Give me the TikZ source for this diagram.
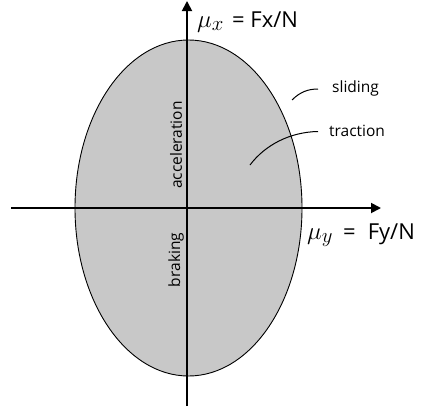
\documentclass[tikz,border=0pt]{standalone}
\usepackage{fontspec}
\setmainfont{Open Sans}
\usetikzlibrary{arrows.meta}
\begin{document}
\begin{tikzpicture}[x=1pt,y=-1pt,
  axis/.style={line width=1.8pt,-{Triangle[width=10pt,length=10pt]}},
  lead/.style={line width=1pt},
  lbl/.style={font=\fontsize{15.5}{17}\selectfont,inner sep=0pt,anchor=west},
  axlbl/.style={font=\fontsize{22}{24}\selectfont,inner sep=0pt,anchor=base west},
  mu/.style={font=\fontsize{30}{32}\selectfont,inner sep=0pt,anchor=base west},
  rot/.style={font=\fontsize{15.5}{17}\selectfont,inner sep=0pt,rotate=90}]
\useasboundingbox (0,0) rectangle (422,407);
\coordinate (c) at (188.5,208);
\fill[fill={rgb,255:red,200;green,200;blue,200},draw=black,line width=0.9pt] (c) ellipse [x radius=113.5, y radius=168];
\coordinate (vb) at (187,406);
\coordinate (vt) at (187,1);
\coordinate (hl) at (11,208);
\coordinate (hr) at (381,208);
\draw[axis] (vb) -- (vt);
\draw[axis] (hl) -- (hr);
\node[mu] (mx) at (197,27) {$\mu_x$};
\node[axlbl] (mxr) at (232,27) {= Fx/N};
\node[mu] (my) at (307,239) {$\mu_y$};
\node[axlbl] (myr) at (343,239) {=\hspace{12pt}Fy/N};
\node[lbl] (sl) at (332,88) {sliding};
\node[lbl] (tr) at (329,131) {traction};
\coordinate (s0) at (292,100);
\coordinate (t0) at (250,165);
\draw[lead] (s0) .. controls (300,92) and (308,89) .. (318,89);
\draw[lead] (t0) .. controls (265,145) and (290,132) .. (318,131.5);
\node[rot] (acc) at (176,145) {acceleration};
\node[rot] (brk) at (176,260) {braking};
\end{tikzpicture}
\end{document}
